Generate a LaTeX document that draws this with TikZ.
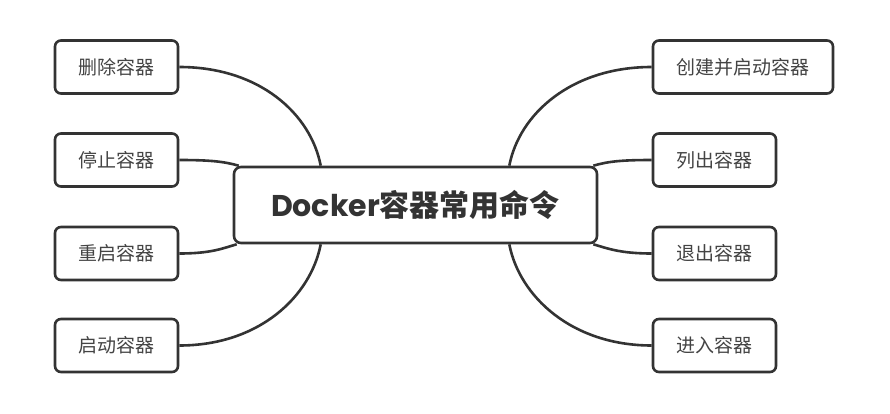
\documentclass[tikz,border=0pt]{standalone}
\usepackage{fontspec}
\setmainfont{Noto Sans CJK SC}
\newfontfamily\cjkb{Noto Sans CJK SC Bold}
\newfontfamily\popb{Poppins}[BoldFont={Poppins Bold}]
\usetikzlibrary{backgrounds}
\definecolor{ln}{HTML}{333333}
\definecolor{tx}{HTML}{444444}
\tikzset{
  leaf/.style={draw=ln, line width=2.6pt, rounded corners=6pt, fill=white,
    minimum height=53pt, text=tx, font=\fontsize{19}{21}\selectfont, inner sep=0pt},
  root/.style={draw=ln, line width=2.6pt, rounded corners=7pt, fill=white,
    minimum width=363pt, minimum height=76pt, text=ln, inner sep=0pt},
  conn/.style={draw=ln, line width=2.6pt}
}
\begin{document}
\begin{tikzpicture}[x=1pt,y=-1pt]
\useasboundingbox (0,0) rectangle (890,414);
\node[root] (c) at (415.5,205) {\fontsize{30}{32}\selectfont\popb\bfseries Docker\cjkb 容器常用命令};
\node[leaf, minimum width=123pt] (l1) at (116.5,67) {删除容器};
\node[leaf, minimum width=123pt] (l2) at (116.5,160) {停止容器};
\node[leaf, minimum width=123pt] (l3) at (116.5,253.5) {重启容器};
\node[leaf, minimum width=123pt] (l4) at (116.5,345.5) {启动容器};
\node[leaf, minimum width=180pt] (r1) at (743,67) {创建并启动容器};
\node[leaf, minimum width=123pt] (r2) at (714.5,160) {列出容器};
\node[leaf, minimum width=123pt] (r3) at (714.5,253.5) {退出容器};
\node[leaf, minimum width=123pt] (r4) at (714.5,345.5) {进入容器};
\begin{scope}[on background layer]
\coordinate (cl1) at ([xshift=88pt]c.north west);
\coordinate (cl2) at ([xshift=6pt]c.north west);
\coordinate (cl3) at ([xshift=4pt]c.south west);
\coordinate (cl4) at ([xshift=88pt]c.south west);
\coordinate (cr1) at ([xshift=-89pt]c.north east);
\coordinate (cr2) at ([xshift=-5pt]c.north east);
\coordinate (cr3) at ([xshift=-5pt]c.south east);
\coordinate (cr4) at ([xshift=-89pt]c.south east);
\draw[conn] (l1.east) .. controls ([xshift=80pt]l1.east) and ([xshift=-10pt,yshift=52pt]cl1) .. (cl1);
\draw[conn] (l4.east) .. controls ([xshift=80pt]l4.east) and ([xshift=-10pt,yshift=-52pt]cl4) .. (cl4);
\draw[conn] (r1.west) .. controls ([xshift=-80pt]r1.west) and ([xshift=10pt,yshift=52pt]cr1) .. (cr1);
\draw[conn] (r4.west) .. controls ([xshift=-80pt]r4.west) and ([xshift=10pt,yshift=-52pt]cr4) .. (cr4);
\draw[conn] (l2.east) .. controls ([xshift=32pt]l2.east) and ([xshift=-14pt,yshift=4pt]cl2) .. (cl2);
\draw[conn] (l3.east) .. controls ([xshift=32pt]l3.east) and ([xshift=-14pt,yshift=-4pt]cl3) .. (cl3);
\draw[conn] (r2.west) .. controls ([xshift=-32pt]r2.west) and ([xshift=14pt,yshift=4pt]cr2) .. (cr2);
\draw[conn] (r3.west) .. controls ([xshift=-32pt]r3.west) and ([xshift=14pt,yshift=-4pt]cr3) .. (cr3);
\end{scope}
\end{tikzpicture}
\end{document}
